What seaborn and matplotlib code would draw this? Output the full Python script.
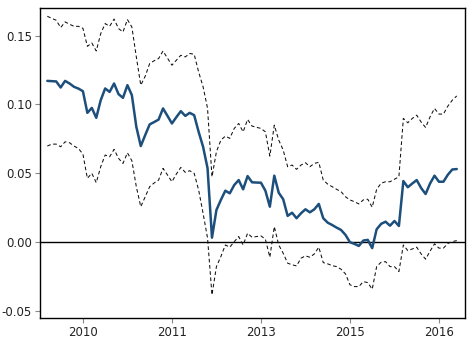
import numpy as np
import pandas as pd
import matplotlib
matplotlib.use("Agg")
import matplotlib.pyplot as plt
import seaborn as sns

# Monthly estimate with upper and lower confidence bounds
estimate = [
    0.1171, 0.1169, 0.1167, 0.1123, 0.1171, 0.1152, 0.1128, 0.1115, 0.1096, 0.0939,
    0.0975, 0.0903, 0.1031, 0.1116, 0.1091, 0.1152, 0.1075, 0.1048, 0.1140, 0.1067,
    0.0838, 0.0698, 0.0778, 0.0855, 0.0872, 0.0890, 0.0971, 0.0917, 0.0862, 0.0908,
    0.0951, 0.0917, 0.0939, 0.0922, 0.0801, 0.0693, 0.0538, 0.0033, 0.0234, 0.0307,
    0.0374, 0.0355, 0.0415, 0.0451, 0.0384, 0.0480, 0.0435, 0.0433, 0.0432, 0.0374,
    0.0258, 0.0483, 0.0359, 0.0312, 0.0191, 0.0214, 0.0174, 0.0210, 0.0239, 0.0217,
    0.0239, 0.0278, 0.0174, 0.0142, 0.0125, 0.0106, 0.0089, 0.0053, 0.0000, -0.0012,
    -0.0027, 0.0012, 0.0017, -0.0043, 0.0094, 0.0133, 0.0149, 0.0120, 0.0154, 0.0118,
    0.0444, 0.0399, 0.0426, 0.0451, 0.0393, 0.0350, 0.0426, 0.0483, 0.0439, 0.0439,
    0.0490, 0.0528, 0.0531,
]
upper = [
    0.1640, 0.1625, 0.1611, 0.1558, 0.1599, 0.1582, 0.1567, 0.1567, 0.1553, 0.1422,
    0.1446, 0.1388, 0.1514, 0.1587, 0.1567, 0.1620, 0.1551, 0.1526, 0.1616, 0.1562,
    0.1345, 0.1140, 0.1205, 0.1297, 0.1317, 0.1333, 0.1388, 0.1336, 0.1285, 0.1321,
    0.1357, 0.1345, 0.1370, 0.1364, 0.1236, 0.1128, 0.0973, 0.0475, 0.0657, 0.0741,
    0.0770, 0.0754, 0.0826, 0.0862, 0.0801, 0.0891, 0.0843, 0.0834, 0.0826, 0.0801,
    0.0625, 0.0850, 0.0741, 0.0669, 0.0548, 0.0560, 0.0529, 0.0560, 0.0577, 0.0548,
    0.0572, 0.0580, 0.0451, 0.0422, 0.0403, 0.0384, 0.0367, 0.0330, 0.0307, 0.0294,
    0.0278, 0.0307, 0.0312, 0.0254, 0.0384, 0.0428, 0.0439, 0.0439, 0.0457, 0.0475,
    0.0899, 0.0867, 0.0898, 0.0922, 0.0872, 0.0833, 0.0910, 0.0971, 0.0930, 0.0930,
    0.0988, 0.1031, 0.1062,
]
lower = [
    0.0698, 0.0712, 0.0712, 0.0693, 0.0729, 0.0722, 0.0698, 0.0680, 0.0640, 0.0464,
    0.0500, 0.0432, 0.0548, 0.0633, 0.0620, 0.0674, 0.0609, 0.0572, 0.0649, 0.0591,
    0.0403, 0.0258, 0.0330, 0.0403, 0.0430, 0.0451, 0.0536, 0.0488, 0.0439, 0.0495,
    0.0543, 0.0507, 0.0519, 0.0500, 0.0379, 0.0210, 0.0031, -0.0382, -0.0177, -0.0104,
    -0.0020, -0.0036, 0.0004, 0.0041, -0.0020, 0.0065, 0.0036, 0.0041, 0.0046, 0.0022,
    -0.0109, 0.0113, -0.0020, -0.0080, -0.0152, -0.0164, -0.0172, -0.0116, -0.0099, -0.0109,
    -0.0085, -0.0036, -0.0148, -0.0157, -0.0170, -0.0177, -0.0196, -0.0230, -0.0309, -0.0322,
    -0.0322, -0.0286, -0.0293, -0.0341, -0.0177, -0.0145, -0.0141, -0.0177, -0.0177, -0.0213,
    -0.0020, -0.0061, -0.0049, -0.0036, -0.0085, -0.0123, -0.0065, -0.0012, -0.0043, -0.0043,
    -0.0009, 0.0004, 0.0012,
]
tick_positions = [8, 28, 48, 68, 88]
tick_labels = ["2010", "2011", "2013", "2015", "2016"]
y_ticks = [-0.05, 0.00, 0.05, 0.10, 0.15]
y_tick_labels = ["-0.05", "0.00", "0.05", "0.10", "0.15"]

df = pd.DataFrame({
    "t": np.arange(len(estimate)),
    "estimate": estimate,
    "upper": upper,
    "lower": lower,
})

sns.set_style("ticks")
plt.rcParams["font.family"] = ["DejaVu Sans"]

fig = plt.figure(figsize=(4.75, 3.42), dpi=100)
ax = fig.add_axes([0.0832, 0.0702, 0.8948, 0.9064])

ax.axhline(0, color="black", lw=1.0, zorder=1)
for col in ["upper", "lower"]:
    sns.lineplot(data=df, x="t", y=col, ax=ax, color="#111111", lw=0.75,
                 linestyle=(0, (3.5, 2.5)), zorder=2)
sns.lineplot(data=df, x="t", y="estimate", ax=ax, color="#1d4f7c", lw=1.8, zorder=3)

ax.set_xlim(-1.75, 93.75)
ax.set_ylim(-0.055, 0.17)
ax.set_xticks(tick_positions)
ax.set_xticklabels(tick_labels)
ax.set_yticks(y_ticks)
ax.set_yticklabels(y_tick_labels)
ax.set_xlabel("")
ax.set_ylabel("")
for s in ax.spines.values():
    s.set_visible(True)
    s.set_color("black")
    s.set_linewidth(1.0)
ax.tick_params(axis="both", length=3.5, width=0.8, color="#888888",
               labelsize=8.5, labelcolor="#222222", pad=2)

fig.savefig("out.png", dpi=100)
